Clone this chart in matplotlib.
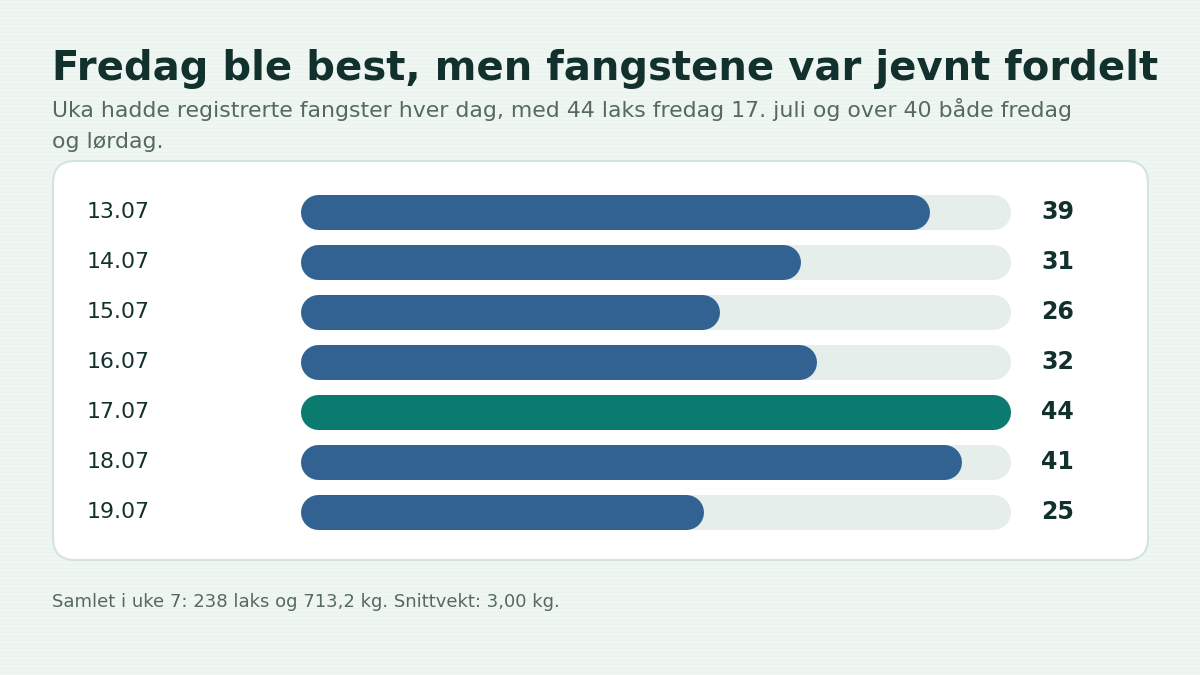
import matplotlib

matplotlib.use("Agg")
import matplotlib.pyplot as plt
from matplotlib.patches import FancyBboxPatch

plt.rcParams["font.family"] = ["DejaVu Sans"]

days = ["13.07", "14.07", "15.07", "16.07", "17.07", "18.07", "19.07"]
catches = [39, 31, 26, 32, 44, 41, 25]
highlight_day = "17.07"

title = "Fredag ble best, men fangstene var jevnt fordelt"
subtitle_lines = [
    "Uka hadde registrerte fangster hver dag, med 44 laks fredag 17. juli og over 40 både fredag",
    "og lørdag.",
]
footer = "Samlet i uke 7: 238 laks og 713,2 kg. Snittvekt: 3,00 kg."

BG = "#f0f7f3"
DARK = "#12302c"
MUTED = "#55695f"
BLUE = "#326291"
TEAL = "#0b7a6f"
TRACK = "#e5eeea"

W, H = 1200, 675
fig = plt.figure(figsize=(W / 100, H / 100), dpi=100, facecolor=BG)

# background axes in pixel coordinates
bg = fig.add_axes([0, 0, 1, 1])
bg.set_xlim(0, W)
bg.set_ylim(H, 0)
bg.axis("off")
for yy in range(0, H, 4):
    bg.axhline(yy, color="#e6f1ec", lw=0.8, alpha=0.6, zorder=0)

card = FancyBboxPatch((53, 161), 1095, 399, boxstyle="round,pad=0,rounding_size=22",
                      facecolor="white", edgecolor="#d3e4dd", lw=1.5, zorder=1)
bg.add_patch(card)

fig.text(52 / W, 1 - 80 / H, title, fontsize=28.9, fontweight="bold", color=DARK,
         va="baseline", ha="left")
for k, line in enumerate(subtitle_lines):
    fig.text(52 / W, 1 - (117 + 31 * k) / H, line, fontsize=15.8, color=MUTED,
             va="baseline", ha="left")
fig.text(52 / W, 1 - 607 / H, footer, fontsize=13, color=MUTED, va="baseline", ha="left")

# bar axes
x0, x1 = 300, 1010
row_h = 50
top = 212 - row_h / 2
n = len(days)
ax = fig.add_axes([x0 / W, 1 - (top + n * row_h) / H, (x1 - x0) / W, n * row_h / H])
xmax = max(catches)
ax.set_xlim(0, xmax)
ax.set_ylim(n - 0.5, -0.5)
ax.axis("off")

bar_px = 35
lw_pt = bar_px * 72 / 100
r = bar_px / 2 / ((x1 - x0) / xmax)  # cap radius in data units

for i, (d, v) in enumerate(zip(days, catches)):
    ax.plot([r, xmax - r], [i, i], color=TRACK, lw=lw_pt, solid_capstyle="round",
            zorder=2, clip_on=False)
    col = TEAL if d == highlight_day else BLUE
    ax.plot([r, v - r], [i, i], color=col, lw=lw_pt, solid_capstyle="round",
            zorder=3, clip_on=False)
    ax.text((87 - x0) / (x1 - x0), i, d, transform=ax.get_yaxis_transform(),
            fontsize=15.8, color=DARK, va="center", ha="left")
    ax.text((1041 - x0) / (x1 - x0), i, str(v), transform=ax.get_yaxis_transform(),
            fontsize=17, fontweight="bold", color=DARK, va="center", ha="left")

fig.savefig("out.png", dpi=100, facecolor=BG)
